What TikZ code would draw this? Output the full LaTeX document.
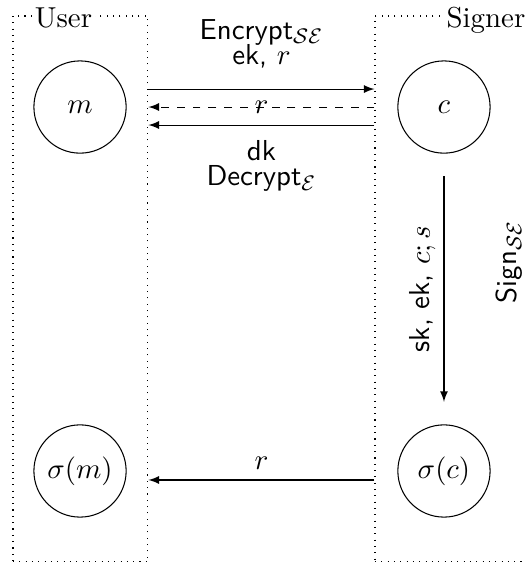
\documentclass[11pt,tikz,border=0pt]{standalone}
\usetikzlibrary{calc}

\tikzset{
    party/.style={draw, dotted, inner sep=0pt, minimum width=#1, minimum height=7.28cm},
    msg/.style={draw, circle, minimum size=1.23cm, inner sep=0pt},
    lbl/.style={font=\sffamily, align=center, inner sep=0pt},
    title/.style={fill=white, inner sep=1pt, anchor=base},
}

\begin{document}
\begin{tikzpicture}[>=latex]
    \useasboundingbox (0,0) rectangle (7.013,-7.507);

    % the two parties, as dotted boxes
    \node[party=1.8cm] (user) at (1.073,-3.853) {};
    \node[party=2.4cm] (signer) at (6.2,-3.853) {};
    \node[title] (userlbl) at (0.847,-0.36) {User};
    \node[title] (signerlbl) at (6.48,-0.36) {Signer};

    % values held by each side
    \node[msg] (m) at (1.067,-1.427) {$m$};
    \node[msg] (c) at (5.92,-1.427) {$c$};
    \node[msg] (sm) at (1.067,-6.28) {$\sigma(m)$};
    \node[msg] (sc) at (5.92,-6.28) {$\sigma(c)$};

    % ends of the messages on the box borders
    \coordinate (ua) at ($(user.east |- m)+(0,0.24)$);
    \coordinate (sa) at ($(signer.west |- c)+(0,0.24)$);
    \coordinate (ub) at (user.east |- m);
    \coordinate (sb) at (signer.west |- c);
    \coordinate (uc) at ($(user.east |- m)+(0,-0.24)$);
    \coordinate (scc) at ($(signer.west |- c)+(0,-0.24)$);
    \coordinate (ud) at ($(user.east |- sm)+(0,-0.12)$);
    \coordinate (sd) at ($(signer.west |- sc)+(0,-0.12)$);

    \draw[->] (ua) -- node[lbl, anchor=south, yshift=7.6pt]
        {Encrypt$_{\mathcal{SE}}$\\[-3.8pt] ek, $r$} (sa);
    \draw[->, dashed] (sb) -- node {$r$} (ub);
    \draw[->] (scc) -- node[lbl, anchor=north, yshift=-5.5pt]
        {dk\\[-3.8pt] Decrypt$_{\mathcal{E}}$} (uc);

    % signing on the signer's side
    \draw[->, shorten <=0.3cm, shorten >=0.3cm] (c) --
        node[lbl, anchor=south, rotate=90, inner sep=3pt] {sk, ek, $c; s$} (sc);
    \node[lbl, rotate=90, anchor=base] (sign) at (6.893,-3.493) {Sign$_{\mathcal{SE}}$};

    \draw[->] (sd) -- node[above] {$r$} (ud);
\end{tikzpicture}
\end{document}
